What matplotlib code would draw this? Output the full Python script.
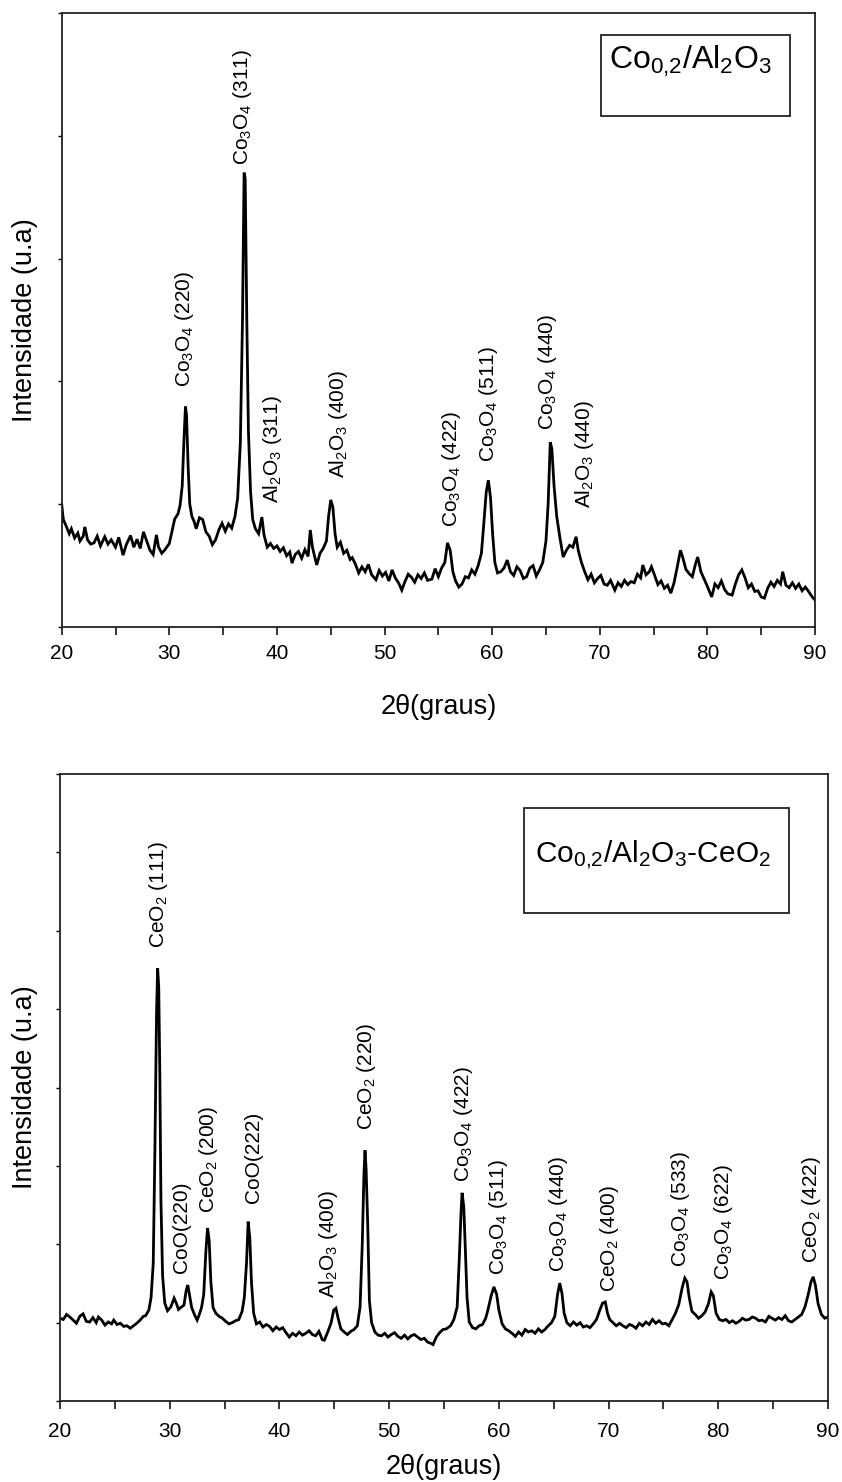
import matplotlib
matplotlib.use("Agg")
import matplotlib.pyplot as plt
from matplotlib.patches import Rectangle
from matplotlib.ticker import MultipleLocator

plt.rcParams["font.family"] = ["Liberation Sans", "DejaVu Sans"]
plt.rcParams["mathtext.fontset"] = "custom"
plt.rcParams["mathtext.rm"] = "Liberation Sans"
plt.rcParams["mathtext.default"] = "regular"

# ---- Co0,2/Al2O3 diffractogram ----
top_2theta = [
    20.0, 20.15, 20.4, 20.7, 20.9, 21.2, 21.5, 21.7, 22.0, 22.15, 22.4, 22.7, 23.0, 23.3, 23.6,
    24.0, 24.3, 24.6, 25.0, 25.3, 25.7, 26.0, 26.4, 26.7, 27.0, 27.3, 27.6, 27.9, 28.2, 28.5,
    28.8, 29.0, 29.3, 29.6, 30.0, 30.3, 30.5, 30.8, 31.0, 31.2, 31.35, 31.5, 31.6, 31.75, 31.9,
    32.1, 32.3, 32.5, 32.8, 33.1, 33.4, 33.7, 34.0, 34.3, 34.6, 34.9, 35.2, 35.5, 35.8, 36.1,
    36.35, 36.6, 36.8, 36.95, 37.05, 37.2, 37.35, 37.55, 37.75, 38.0, 38.3, 38.6, 38.8, 39.1,
    39.4, 39.7, 40.0, 40.3, 40.6, 40.9, 41.2, 41.4, 41.7, 42.0, 42.3, 42.6, 42.9, 43.1, 43.3,
    43.5, 43.7, 44.0, 44.3, 44.6, 44.8, 45.0, 45.2, 45.4, 45.6, 45.9, 46.2, 46.5, 46.8, 47.0,
    47.3, 47.6, 47.9, 48.2, 48.5, 48.8, 49.2, 49.5, 49.8, 50.1, 50.4, 50.7, 51.0, 51.3, 51.6,
    51.9, 52.2, 52.5, 52.8, 53.1, 53.4, 53.7, 54.0, 54.4, 54.7, 55.0, 55.3, 55.6, 55.85, 56.1,
    56.35, 56.6, 56.9, 57.2, 57.5, 57.8, 58.1, 58.4, 58.7, 59.0, 59.2, 59.45, 59.65, 59.85,
    60.05, 60.25, 60.5, 60.8, 61.1, 61.4, 61.7, 62.0, 62.3, 62.6, 62.9, 63.2, 63.5, 63.8, 64.1,
    64.4, 64.7, 65.0, 65.2, 65.4, 65.55, 65.75, 66.0, 66.3, 66.6, 66.9, 67.2, 67.5, 67.8, 68.0,
    68.3, 68.6, 68.9, 69.2, 69.5, 69.8, 70.1, 70.4, 70.7, 71.0, 71.4, 71.7, 72.0, 72.3, 72.6,
    72.9, 73.2, 73.5, 73.8, 74.0, 74.3, 74.6, 74.8, 75.1, 75.4, 75.7, 76.0, 76.3, 76.6, 76.9,
    77.2, 77.5, 77.7, 78.0, 78.3, 78.6, 78.9, 79.1, 79.4, 79.7, 80.0, 80.4, 80.7, 81.0, 81.3,
    81.6, 81.9, 82.3, 82.6, 82.9, 83.2, 83.5, 83.8, 84.1, 84.4, 84.7, 85.0, 85.3, 85.6, 85.9,
    86.2, 86.5, 86.8, 87.0, 87.3, 87.6, 87.9, 88.2, 88.5, 88.8, 89.1, 89.4, 89.7, 90.0,
]
top_intensity = [
    20.0, 17.5, 16.5, 15.2, 16.0, 14.5, 15.3, 14.0, 14.8, 16.3, 14.2, 13.5, 13.7, 14.8, 13.2,
    14.7, 13.5, 14.2, 13.0, 14.6, 11.7, 13.4, 14.9, 13.0, 14.3, 12.8, 15.5, 14.0, 12.5, 11.8,
    15.0, 13.0, 12.0, 12.6, 13.6, 16.0, 17.6, 18.4, 19.8, 23.0, 30.0, 35.9, 34.5, 26.0, 20.0,
    18.0, 17.2, 16.0, 17.8, 17.5, 15.5, 14.8, 13.4, 14.2, 15.8, 16.9, 15.6, 16.8, 16.1, 18.0,
    21.0, 30.0, 50.0, 74.0, 73.0, 50.0, 32.0, 22.0, 17.5, 16.0, 15.2, 17.9, 15.0, 13.0,
    13.6, 12.8, 13.2, 12.3, 12.9, 11.6, 12.2, 10.4, 11.8, 12.3, 11.2, 12.6, 11.5, 15.8, 13.0,
    11.5, 10.1, 12.0, 12.8, 14.0, 18.0, 20.7, 19.5, 15.2, 13.0, 13.8, 12.0, 12.5, 11.0, 11.3,
    10.2, 8.8, 9.8, 9.0, 10.2, 8.5, 7.7, 9.2, 8.3, 8.9, 7.5, 9.3, 8.0, 7.2, 6.0,
    7.4, 8.6, 8.1, 7.3, 8.5, 7.9, 8.8, 7.6, 7.8, 9.5, 8.2, 9.6, 10.5, 13.7, 12.5,
    9.0, 7.5, 6.5, 7.0, 8.2, 8.0, 9.3, 8.6, 10.0, 12.0, 16.3, 22.0, 23.9, 21.0,
    15.0, 10.5, 8.8, 9.0, 9.6, 10.9, 9.0, 8.4, 9.8, 9.2, 7.9, 8.2, 9.6, 10.0, 8.3,
    9.3, 10.5, 14.0, 20.0, 30.1, 29.0, 23.0, 18.0, 14.5, 11.4, 12.5, 13.3, 13.0, 14.7, 12.5,
    10.5, 9.0, 7.7, 8.6, 7.2, 7.9, 8.4, 7.0, 6.8, 7.6, 6.0, 7.2, 6.6, 7.6, 6.9,
    7.4, 7.2, 8.6, 8.0, 10.1, 8.5, 9.0, 9.8, 8.4, 6.9, 7.5, 6.3, 6.8, 5.5, 7.2,
    9.8, 12.5, 11.4, 9.4, 8.7, 8.2, 10.3, 11.4, 9.0, 7.8, 6.6, 4.9, 7.0, 6.4, 7.5,
    6.1, 5.4, 5.2, 7.0, 8.5, 9.3, 8.0, 6.4, 7.0, 5.8, 5.9, 4.9, 4.7, 6.3, 7.3,
    6.6, 7.6, 7.0, 9.0, 6.8, 6.4, 7.2, 6.3, 7.0, 5.9, 6.5, 5.8, 5.0, 4.4,
]

# ---- Co0,2/Al2O3-CeO2 diffractogram ----
bottom_2theta = [
    20.0, 20.3, 20.6, 20.9, 21.2, 21.5, 21.8, 22.1, 22.4, 22.7, 23.0, 23.3, 23.5, 23.8, 24.1,
    24.4, 24.7, 24.9, 25.2, 25.5, 25.8, 26.1, 26.4, 26.7, 27.0, 27.3, 27.6, 27.8, 28.1, 28.3,
    28.5, 28.65, 28.8, 28.9, 29.0, 29.1, 29.2, 29.35, 29.55, 29.8, 30.1, 30.4, 30.6, 30.8, 31.0,
    31.3, 31.5, 31.65, 31.8, 32.0, 32.3, 32.5, 32.7, 32.9, 33.1, 33.3, 33.45, 33.6, 33.75, 33.95,
    34.2, 34.5, 34.8, 35.1, 35.4, 35.7, 36.0, 36.3, 36.6, 36.8, 37.0, 37.15, 37.3, 37.45, 37.65,
    37.9, 38.2, 38.5, 38.8, 39.1, 39.4, 39.7, 40.0, 40.3, 40.6, 40.9, 41.2, 41.5, 41.8, 42.1,
    42.4, 42.7, 43.0, 43.3, 43.6, 43.9, 44.1, 44.4, 44.7, 44.95, 45.15, 45.35, 45.6, 45.9, 46.2,
    46.5, 46.8, 47.1, 47.35, 47.55, 47.7, 47.8, 47.9, 48.05, 48.2, 48.4, 48.7, 49.0, 49.3, 49.6,
    49.9, 50.2, 50.5, 50.8, 51.1, 51.4, 51.7, 52.0, 52.3, 52.6, 52.9, 53.2, 53.5, 53.8, 54.0,
    54.3, 54.6, 54.9, 55.2, 55.6, 55.9, 56.2, 56.4, 56.55, 56.65, 56.8, 56.95, 57.1, 57.3, 57.6,
    57.9, 58.2, 58.5, 58.8, 59.0, 59.3, 59.55, 59.8, 60.0, 60.3, 60.6, 60.9, 61.2, 61.5, 61.8,
    62.1, 62.4, 62.7, 63.0, 63.3, 63.6, 63.9, 64.2, 64.5, 64.8, 65.1, 65.35, 65.55, 65.75, 65.95,
    66.2, 66.5, 66.8, 67.1, 67.4, 67.7, 68.0, 68.3, 68.6, 68.9, 69.2, 69.45, 69.7, 69.9, 70.1,
    70.4, 70.7, 71.0, 71.3, 71.6, 71.9, 72.2, 72.5, 72.8, 73.1, 73.4, 73.7, 74.0, 74.3, 74.6,
    74.9, 75.2, 75.5, 75.8, 76.1, 76.4, 76.7, 76.95, 77.15, 77.35, 77.6, 77.9, 78.2, 78.5, 78.8,
    79.1, 79.35, 79.55, 79.8, 80.1, 80.4, 80.7, 81.0, 81.3, 81.6, 81.9, 82.2, 82.5, 82.8, 83.1,
    83.4, 83.7, 84.0, 84.3, 84.6, 84.9, 85.2, 85.5, 85.8, 86.1, 86.4, 86.7, 87.0, 87.3, 87.6,
    87.9, 88.2, 88.45, 88.65, 88.85, 89.1, 89.4, 89.7, 90.0,
]
bottom_intensity = [
    13.2, 13.0, 13.8, 13.4, 12.9, 12.4, 13.5, 13.9, 12.7, 12.6, 13.3, 12.5, 13.4, 12.9, 12.1,
    12.6, 12.3, 12.9, 12.2, 12.4, 11.9, 12.0, 11.6, 12.0, 12.4, 12.9, 13.5, 13.6, 14.5, 16.5,
    22.0, 40.0, 62.0, 69.0, 66.0, 52.0, 32.0, 20.0, 15.6, 14.4, 15.0, 16.4, 15.6, 14.6, 14.9,
    15.3, 17.6, 18.5, 17.0, 14.9, 13.6, 12.9, 13.8, 14.9, 17.0, 24.0, 27.6, 25.5, 19.0, 14.9,
    14.0, 13.5, 13.2, 12.7, 12.3, 12.5, 12.8, 13.0, 14.3, 16.5, 22.0, 28.6, 26.0, 19.0, 14.0,
    12.3, 12.6, 11.8, 12.2, 11.9, 11.2, 11.8, 11.4, 11.7, 10.9, 10.2, 10.8, 10.4, 11.0, 10.5,
    10.8, 11.2, 10.6, 10.4, 11.1, 9.8, 9.7, 11.0, 12.4, 14.5, 14.8, 13.2, 11.5, 11.0, 10.6,
    11.1, 11.4, 12.0, 15.0, 25.0, 36.0, 40.0, 37.0, 28.0, 16.0, 12.5, 11.0, 10.5, 10.4, 10.8,
    10.2, 10.6, 10.9, 10.3, 10.0, 10.5, 9.9, 10.4, 10.6, 10.2, 9.8, 10.0, 9.4, 9.2, 9.0,
    10.2, 10.9, 11.4, 11.5, 12.0, 13.0, 15.0, 23.0, 30.0, 33.2, 31.0, 24.0, 16.5, 12.6, 11.7,
    11.5, 12.0, 12.2, 13.2, 14.5, 16.8, 18.2, 17.0, 14.5, 12.3, 11.5, 11.2, 10.8, 10.3, 11.0,
    10.5, 11.4, 11.0, 11.2, 10.8, 11.5, 11.0, 11.4, 12.0, 12.5, 13.5, 17.0, 18.8, 17.2, 14.0,
    12.5, 12.0, 12.6, 12.1, 12.5, 11.8, 12.0, 11.7, 12.3, 13.0, 14.5, 15.6, 15.8, 14.0, 13.0,
    12.5, 12.0, 12.4, 12.0, 11.7, 12.2, 12.0, 11.6, 12.4, 12.0, 12.6, 12.2, 13.0, 12.4, 12.8,
    12.3, 12.4, 12.0, 13.0, 14.0, 15.4, 18.0, 19.6, 19.0, 16.5, 14.3, 13.8, 13.2, 13.6, 14.2,
    15.5, 17.4, 16.8, 14.0, 13.0, 12.8, 13.0, 12.5, 12.8, 12.4, 12.7, 13.2, 12.9, 13.0, 13.4,
    13.2, 12.8, 12.9, 12.6, 13.5, 13.2, 12.9, 13.3, 13.0, 13.6, 12.8, 12.6, 13.0, 13.4, 13.8,
    15.0, 17.0, 19.0, 19.8, 18.5, 15.5, 13.8, 13.2, 13.4,
]

# Reflection labels (text, anchor 2theta, anchor intensity at the start of the text)
top_labels = ["Co$_3$O$_4$ (220)", "Co$_3$O$_4$ (311)", "Al$_2$O$_3$ (311)", "Al$_2$O$_3$ (400)",
              "Co$_3$O$_4$ (422)", "Co$_3$O$_4$ (511)", "Co$_3$O$_4$ (440)", "Al$_2$O$_3$ (440)"]
top_label_x = [31.4, 36.8, 39.6, 45.7, 56.2, 59.7, 65.1, 68.6]
top_label_y = [39.1, 75.2, 20.2, 24.3, 16.3, 26.9, 32.1, 19.4]

bottom_labels = ["CeO$_2$ (111)", "CoO(220)", "CeO$_2$ (200)", "CoO(222)", "Al$_2$O$_3$ (400)",
                 "CeO$_2$ (220)", "Co$_3$O$_4$ (422)", "Co$_3$O$_4$ (511)", "Co$_3$O$_4$ (440)",
                 "CeO$_2$ (400)", "Co$_3$O$_4$ (533)", "Co$_3$O$_4$ (622)", "CeO$_2$ (422)"]
bottom_label_x = [29.0, 31.1, 33.5, 37.6, 44.5, 47.9, 56.8, 60.0, 65.4, 70.1, 76.6, 80.5, 88.5]
bottom_label_y = [72.2, 20.4, 30.0, 31.6, 16.4, 43.2, 34.9, 20.1, 20.6, 17.4, 21.4, 19.3, 22.0]

sample_names = ["Co$_{0{,}2}$/Al$_2$O$_3$", "Co$_{0{,}2}$/Al$_2$O$_3$-CeO$_2$"]

x_label = "2\u03b8(graus)"
y_label = "Intensidade (u.a)"

W, H = 842, 1482
fig = plt.figure(figsize=(W / 100, H / 100), dpi=100)
fig.patch.set_facecolor("white")

ax1 = fig.add_axes([61.7 / W, 1 - 627 / H, 753.3 / W, 614 / H])
ax2 = fig.add_axes([60 / W, 1 - 1401 / H, 768 / W, 627 / H])


def style_axes(ax, xpad, ylab_x, xlab_y, yticks_step):
    ax.set_xlim(20, 90)
    ax.set_ylim(0, 100)
    ax.xaxis.set_major_locator(MultipleLocator(10))
    ax.xaxis.set_minor_locator(MultipleLocator(5))
    ax.yaxis.set_major_locator(MultipleLocator(yticks_step))
    ax.set_yticklabels([])
    ax.tick_params(axis="x", which="both", direction="out", length=6, width=1.1,
                   labelsize=15, pad=xpad, colors="black")
    ax.tick_params(axis="y", which="both", direction="out", length=3, width=1.0,
                   labelleft=False)
    for s in ax.spines.values():
        s.set_linewidth(1.3)
        s.set_color("#222222")
    ax.set_xlabel(x_label, fontsize=19.5, va="center")
    ax.xaxis.set_label_coords(0.5, xlab_y)
    ax.set_ylabel(y_label, fontsize=19.5, va="center")
    ax.yaxis.set_label_coords(ylab_x, 0.5)


style_axes(ax1, 6.5, (25 - 61.7) / 753.3, (627 - 707) / 614, 20)
style_axes(ax2, 9.0, (25 - 60) / 768, (1401 - 1467) / 627, 12.5)

ax1.plot(top_2theta, top_intensity, color="black", lw=2.0, solid_joinstyle="miter")
ax2.plot(bottom_2theta, bottom_intensity, color="black", lw=2.0, solid_joinstyle="miter")

for txt, x, y in zip(top_labels, top_label_x, top_label_y):
    ax1.text(x, y, txt, rotation=90, ha="center", va="bottom", fontsize=15)
for txt, x, y in zip(bottom_labels, bottom_label_x, bottom_label_y):
    ax2.text(x, y, txt, rotation=90, ha="center", va="bottom", fontsize=15)

# Sample name boxes
ax1.add_patch(Rectangle((0.716, 0.832), 0.251, 0.132, transform=ax1.transAxes,
                        fill=False, lw=1.3, edgecolor="#222222"))
ax1.text(0.727, 0.921, sample_names[0], transform=ax1.transAxes, fontsize=23,
         ha="left", va="center")
ax2.add_patch(Rectangle((0.604, 0.778), 0.345, 0.168, transform=ax2.transAxes,
                        fill=False, lw=1.3, edgecolor="#222222"))
ax2.text(0.619, 0.872, sample_names[1], transform=ax2.transAxes, fontsize=21.5,
         ha="left", va="center")

fig.savefig("out.png", dpi=100, facecolor="white")
